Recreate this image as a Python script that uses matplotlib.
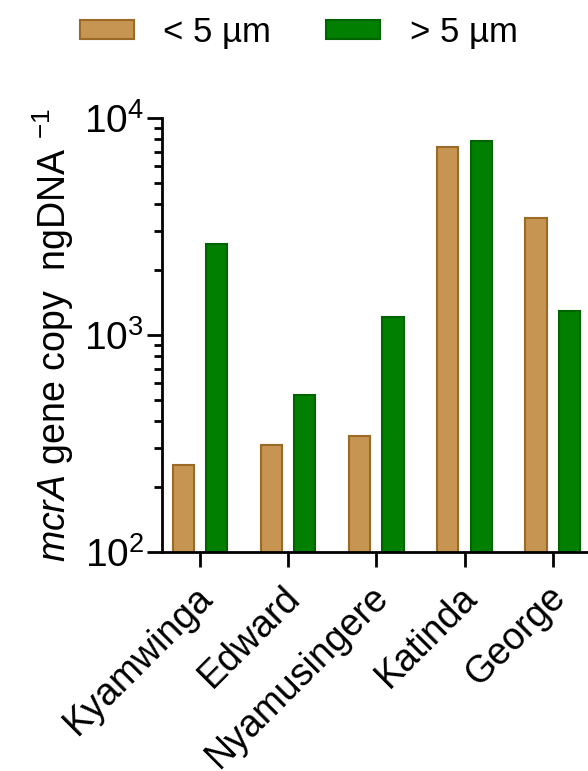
import matplotlib
matplotlib.use("Agg")
from matplotlib import pyplot as plt
from matplotlib.ticker import LogLocator, NullFormatter
from matplotlib.transforms import ScaledTranslation
import numpy as np

plt.rcParams['font.family'] = ['Liberation Sans', 'DejaVu Sans']
plt.rcParams['mathtext.fontset'] = 'custom'
plt.rcParams['mathtext.rm'] = 'Liberation Sans'
plt.rcParams['mathtext.it'] = 'Liberation Sans:italic'
plt.rcParams['mathtext.default'] = 'regular'

# mcrA gene copies per ng DNA for each lake, two size fractions
lakes = ["Kyamwinga", "Edward", "Nyamusingere", "Katinda", "George"]
small_fraction = [252, 311, 342, 7380, 3450]    # < 5 um
large_fraction = [2630, 529, 1214, 7810, 1286]  # > 5 um
series_labels = ["< 5 µm", "> 5 µm"]

x = np.arange(len(lakes))
bar_w = 0.24
offset = 0.19

fig = plt.figure(figsize=(5.88, 7.71), dpi=100)
ax = fig.add_axes([0.2755, 0.284, 0.7245, 0.563])

b1 = ax.bar(x - offset, small_fraction, bar_w, color="#C69551",
            edgecolor="#9A6A26", linewidth=1.5, label=series_labels[0])
b2 = ax.bar(x + offset, large_fraction, bar_w, color="#007F00",
            edgecolor="#006400", linewidth=1.5, label=series_labels[1])

ax.set_yscale("log")
ax.set_ylim(100, 10000)
ax.set_xlim(-0.43, 4.4)

ax.set_yticks([100, 1000, 10000])
ax.set_yticklabels(["$10^2$", "$10^3$", "$10^4$"], fontsize=28)
ax.yaxis.set_minor_locator(LogLocator(base=10, subs=np.arange(2, 10)))
ax.yaxis.set_minor_formatter(NullFormatter())

for side in ("top", "right"):
    ax.spines[side].set_visible(False)
for side in ("left", "bottom"):
    ax.spines[side].set_linewidth(2)
ax.tick_params(axis="both", which="major", width=2, length=11, pad=2)
ax.tick_params(axis="x", which="major", pad=14)
ax.tick_params(axis="y", which="minor", width=2, length=6)

ax.set_xticks(x)
ax.set_xticklabels(lakes, rotation=45, ha="right", va="center",
                   rotation_mode="anchor", fontsize=27)
# nudge the slanted labels a little right and down (after tick_params)
shift = ScaledTranslation(7 / 100, -5 / 100, fig.dpi_scale_trans)
for lbl in ax.get_xticklabels():
    lbl.set_transform(lbl.get_transform() + shift)

ax.set_ylabel("$\\it{mcrA}$ gene copy  ngDNA $^{-1}$", fontsize=27, labelpad=6)

fig.legend(handles=[b1, b2], loc="upper center", bbox_to_anchor=(0.508, 1.02),
           ncol=2, frameon=False, fontsize=25, handlelength=1.55,
           handleheight=0.5, columnspacing=1.6, handletextpad=0.85)

fig.savefig("out.png", dpi=100)
